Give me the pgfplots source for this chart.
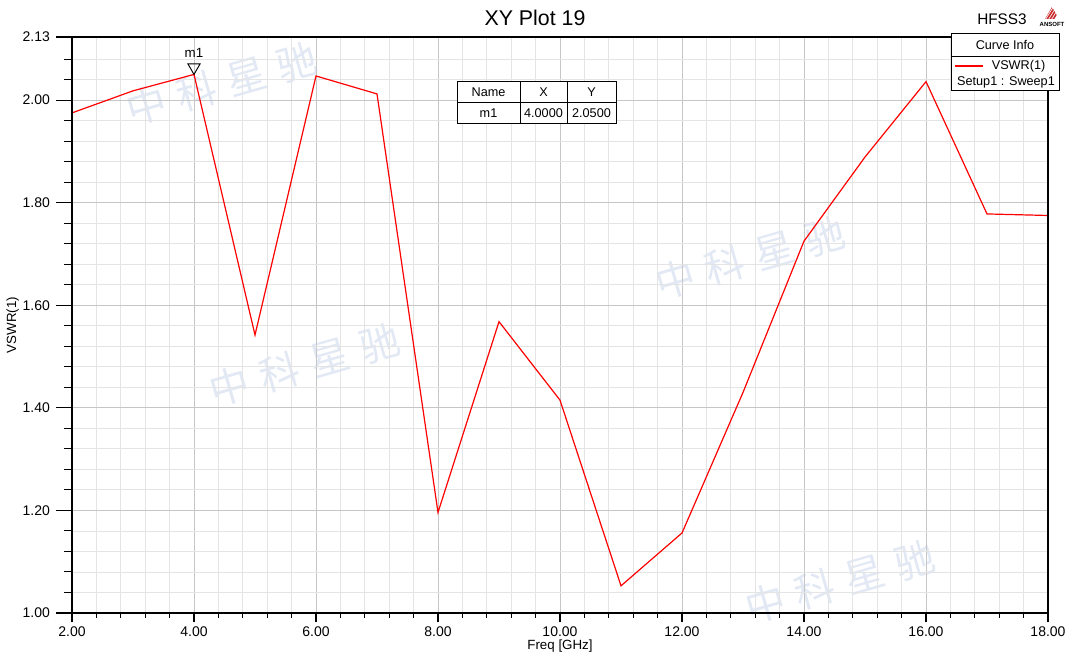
\documentclass[border=0pt]{standalone}
\usepackage{pgfplots}
\pgfplotsset{compat=1.18}
\usepackage{fontspec}
\setmainfont{Liberation Sans}
\newfontfamily\cjk{Noto Sans CJK SC}
\definecolor{majgrid}{RGB}{198,198,198}
\definecolor{mingrid}{RGB}{228,228,228}
\definecolor{wm}{RGB}{226,233,244}
\definecolor{ansred}{RGB}{200,40,40}

\pgfplotsset{
  vswrbase/.style={
    at={(54pt,31.5pt)}, anchor=south west,
    scale only axis, width=732pt, height=432pt,
    xmin=2, xmax=18, ymin=1, ymax=2.123,
    axis line style={black, line width=0.8pt},
    tick align=outside, tick pos=left,
    every tick/.style={black, line width=0.8pt},
    ticklabel style={font=\fontsize{10.5}{12}\selectfont},
    /pgf/number format/.cd, fixed, fixed zerofill, precision=2, assume math mode=true,
    /pgfplots/.cd,
    label style={font=\fontsize{10}{12}\selectfont},
  },
  yticksset/.style={
    ytick={1,1.2,1.4,1.6,1.8,2.0,2.123},
    minor ytick={1.04,1.08,1.12,1.16,1.24,1.28,1.32,1.36,1.44,1.48,1.52,1.56,1.64,1.68,1.72,1.76,1.84,1.88,1.92,1.96,2.04,2.08},
  },
}

\begin{document}
\begin{tikzpicture}
\path[use as bounding box] (0,0) rectangle (802.5pt,491.25pt);
% faint watermark
\begin{scope}[shift={(0pt,491.25pt)}, x=0.75pt, y=-0.75pt]
  \foreach \px/\py in {222/84, 750/258, 305/365, 840/582}
    \node[rotate=16, text=wm, font=\cjk\fontsize{30}{30}\selectfont] at (\px,\py) {中\hspace{9pt}科\hspace{9pt}星\hspace{9pt}驰};
\end{scope}

% main axis: grid, x ticks, data
\begin{axis}[
  vswrbase, yticksset,
  xtick={2,4,...,18}, minor x tick num=4,
  yticklabels={},
  ytick style={draw=none},
  grid=both,
  major grid style={draw=majgrid, line width=0.6pt},
  minor grid style={draw=mingrid, line width=0.6pt},
  major tick length=7pt, minor tick length=3.75pt,
  xlabel={Freq [GHz]},
  xlabel style={yshift=5pt},
  clip=false,
]
\addplot[red, line width=0.9pt, mark=none] coordinates {
 (2,1.975) (3,2.018) (4,2.050) (5,1.542) (6,2.047) (7,2.012) (8,1.196)
 (9,1.568) (10,1.415) (11,1.053) (12,1.156) (13,1.430) (14,1.725)
 (15,1.889) (16,2.036) (17,1.778) (18,1.775)};
\addplot[only marks, mark=triangle, mark size=5.3pt, black,
  mark options={line width=0.7pt, yshift=5.3pt, rotate=180},
  nodes near coords={m1},
  every node near coord/.append style={anchor=south, yshift=6.5pt, inner sep=0.5pt, font=\fontsize{10}{12}\selectfont, text=black}]
  coordinates {(4,2.050)};
\draw[black, line width=1.2pt] (axis cs:2,1) -- (axis cs:18,1);
\end{axis}

% second axis: y ticks and labels
\begin{axis}[
  vswrbase, yticksset,
  yticklabels={1.00,1.20,1.40,1.60,1.80,2.00,2.13},
  xtick=\empty,
  major tick length=12pt, minor tick length=6pt,
  ylabel={VSWR(1)},
  ylabel style={yshift=-4pt},
  yticklabel style={xshift=-1pt},
]
\end{axis}

\begin{scope}[shift={(0pt,491.25pt)}, x=0.75pt, y=-0.75pt]
  % title
  \node[font=\fontsize{16}{18}\selectfont] at (535,18) {XY Plot 19};
  \node[font=\fontsize{11.5}{13}\selectfont] at (1002,19) {HFSS3};
  % ANSOFT logo
  \begin{scope}
    \clip (1045,19) -- (1052,7) -- (1059,19) -- cycle;
    \foreach \k in {0,3,6,9,12} \draw[ansred, line width=1.2pt] (1040+\k,21) -- (1050+\k,5);
  \end{scope}
  \node[font=\fontsize{4.5}{5}\selectfont\bfseries] at (1052,24.5) {ANSOFT};
  % marker table
  \draw[line width=0.7pt, fill=white] (457,81) rectangle (616,123);
  \draw[line width=0.6pt] (457,102) -- (616,102);
  \draw[line width=0.6pt] (520,81) -- (520,123);
  \draw[line width=0.6pt] (567,81) -- (567,123);
  \begin{scope}[every node/.style={font=\fontsize{9.5}{11}\selectfont}]
    \node at (488.5,92) {Name};
    \node at (543.5,92) {X};
    \node at (591.5,92) {Y};
    \node at (488.5,113) {m1};
    \node at (543.5,113) {4.0000};
    \node at (591.5,113) {2.0500};
  \end{scope}
  % legend
  \draw[line width=0.7pt, fill=white] (951,33) rectangle (1059,90);
  \draw[line width=0.6pt] (951,56) -- (1059,56);
  \begin{scope}[every node/.style={font=\fontsize{9.5}{11}\selectfont}]
    \node at (1005,45) {Curve Info};
    \draw[red, line width=1.5pt] (955,66) -- (983,66);
    \node[anchor=east] at (1050,66) {VSWR(1)};
    \node at (1006,82) {Setup1 : Sweep1};
  \end{scope}
\end{scope}
\end{tikzpicture}
\end{document}
